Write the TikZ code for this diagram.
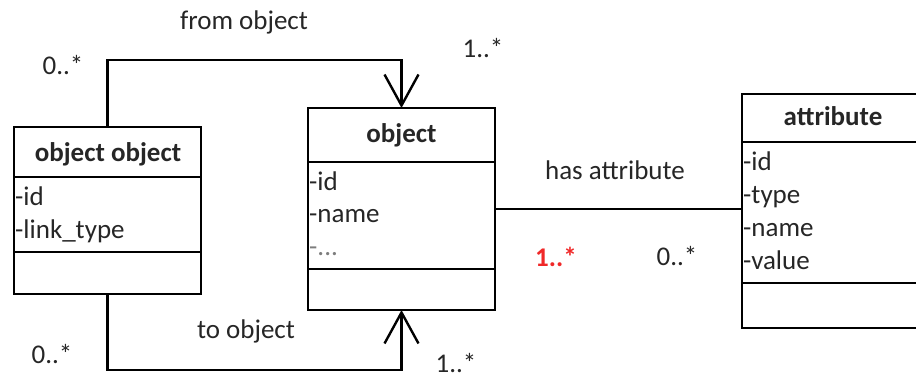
\documentclass[tikz,border=0pt]{standalone}
\usepackage{fontspec}
\setmainfont{Carlito}
\usetikzlibrary{arrows.meta}
\definecolor{txt}{HTML}{262626}
\definecolor{redtxt}{HTML}{F02828}
\begin{document}
\begin{tikzpicture}[x=1pt,y=-1pt,
  every node/.style={font=\fontsize{27}{33}\selectfont, text=txt},
  umlbox/.style={draw, line width=2.4pt, inner sep=0pt, outer sep=0pt},
  sep/.style={line width=2.4pt},
  conn/.style={line width=2.4pt},
  openarrow/.style={-{Straight Barb[length=31pt,width=34pt,line width=2.4pt]}},
  head/.style={anchor=base, font=\fontsize{27}{33}\selectfont\bfseries},
  attr/.style={anchor=base west, inner sep=0pt},
  lbl/.style={anchor=base, inner sep=0pt}]
\useasboundingbox (0,0) rectangle (916,379);
% boxes
\node[umlbox, minimum width=187pt, minimum height=167pt] (oo) at (107.5,210.5) {};
\node[umlbox, minimum width=187pt, minimum height=202pt] (obj) at (401.5,209) {};
\node[umlbox, minimum width=182pt, minimum height=234pt] (att) at (833,211) {};
% separators
\draw[sep] ([yshift=-50pt]oo.north west) -- ([yshift=-50pt]oo.north east);
\draw[sep] ([yshift=-125pt]oo.north west) -- ([yshift=-125pt]oo.north east);
\draw[sep] ([yshift=-54pt]obj.north west) -- ([yshift=-54pt]obj.north east);
\draw[sep] ([yshift=-161pt]obj.north west) -- ([yshift=-161pt]obj.north east);
\draw[sep] ([yshift=-48pt]att.north west) -- ([yshift=-48pt]att.north east);
\draw[sep] ([yshift=-189pt]att.north west) -- ([yshift=-189pt]att.north east);
% headers
\node[head] (hoo) at (108,162) {object object};
\node[head] (hobj) at (401.5,143) {object};
\node[head] (hatt) at (833,126) {attribute};
% attributes
\node[attr] (oo1) at (15,206) {-id};
\node[attr] (oo2) at (15,239) {-link\_type};
\node[attr] (ob1) at (309,191) {-id};
\node[attr] (ob2) at (309,223) {-name};
\node[attr, text=txt!60] (ob3) at (309,256) {-...};
\node[attr] (at1) at (743,171) {-id};
\node[attr] (at2) at (743,204) {-type};
\node[attr] (at3) at (743,237) {-name};
\node[attr] (at4) at (743,270) {-value};
% connectors
\coordinate (ytop) at (0,60);
\coordinate (ybot) at (0,370);
\draw[conn, openarrow] (oo.north) -- (oo.north |- ytop) -| (obj.north);
\draw[conn, openarrow] (oo.south) -- (oo.south |- ybot) -| (obj.south);
\draw[conn] (obj.east) -- (obj.east -| att.west);
% labels
\node[lbl] (l1) at (244,30) {from object};
\node[lbl] (l2) at (63,75) {0..*};
\node[lbl] (l3) at (483,58) {1..*};
\node[lbl] (l4) at (246,339) {to object};
\node[lbl] (l5) at (52,363) {0..*};
\node[lbl] (l6) at (456,373) {1..*};
\node[lbl] (l7) at (615,180) {has attribute};
\node[lbl, text=redtxt, font=\fontsize{27}{33}\selectfont\bfseries] (l8) at (556,267) {1..*};
\node[lbl] (l9) at (677,266) {0..*};
\end{tikzpicture}
\end{document}
